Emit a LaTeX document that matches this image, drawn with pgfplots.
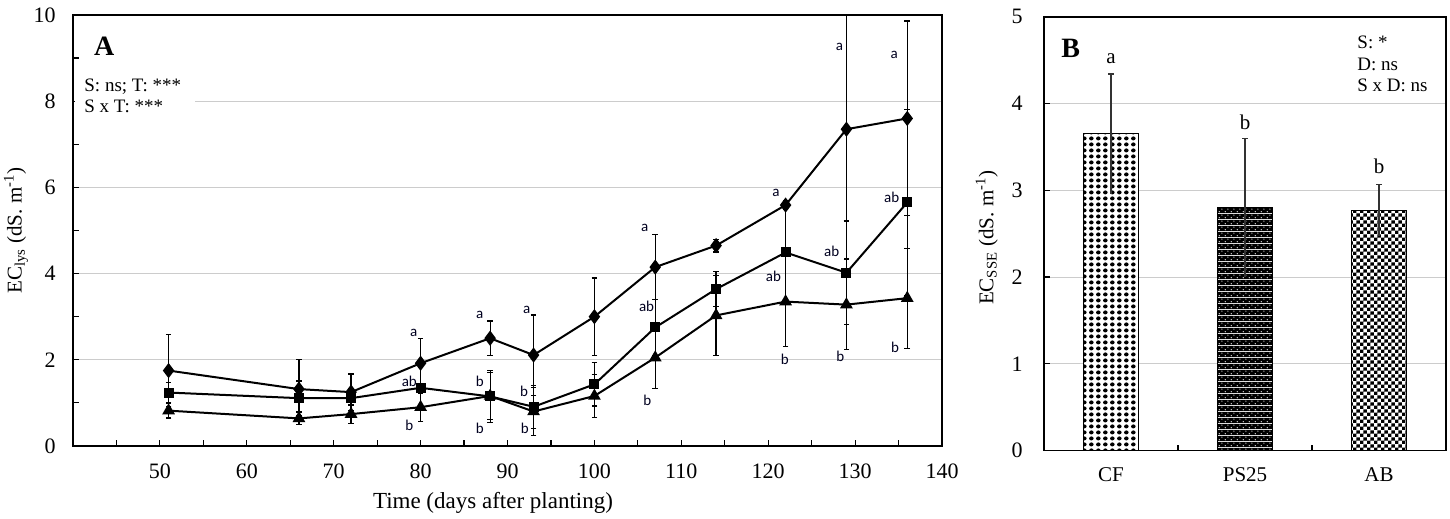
\documentclass[border=0pt]{standalone}
\usepackage{fontspec}
\setmainfont{Liberation Serif}
\newfontfamily\calfont{Carlito}
\usepackage{pgfplots}
\usepackage{pgfplotstable}
\pgfplotsset{compat=1.18}
\usetikzlibrary{patterns}

\pgfdeclarepatterninherentlycolored{cfdots}{\pgfpointorigin}{\pgfqpoint{3.4pt}{3pt}}{\pgfqpoint{3.4pt}{3pt}}{%
  \pgfsetfillcolor{black}\pgfpathcircle{\pgfqpoint{1.7pt}{1.5pt}}{1.15pt}\pgfusepath{fill}}
\pgfdeclarepatterninherentlycolored{psdots}{\pgfpointorigin}{\pgfqpoint{3pt}{3pt}}{\pgfqpoint{3pt}{3pt}}{%
  \pgfsetfillcolor{black}\pgfpathrectangle{\pgfpointorigin}{\pgfqpoint{3pt}{3pt}}\pgfusepath{fill}%
  \pgfsetfillcolor{white}\pgfpathcircle{\pgfqpoint{0.75pt}{0.75pt}}{0.36pt}\pgfpathcircle{\pgfqpoint{2.25pt}{2.25pt}}{0.36pt}\pgfusepath{fill}}
\pgfdeclarepatterninherentlycolored{abcheck}{\pgfpointorigin}{\pgfqpoint{3.4pt}{3.4pt}}{\pgfqpoint{3.4pt}{3.4pt}}{%
  \pgfsetfillcolor{black}\pgfpathrectangle{\pgfpointorigin}{\pgfqpoint{1.7pt}{1.7pt}}\pgfpathrectangle{\pgfqpoint{1.7pt}{1.7pt}}{\pgfqpoint{1.7pt}{1.7pt}}\pgfusepath{fill}}

\pgfplotstableread{
x y e
51 1.75 0.84
66 1.32 0.68
72 1.25 0.42
80 1.92 0.58
88 2.50 0.40
93 2.11 0.93
100 3.00 0.90
107 4.15 0.76
114 4.65 0.15
122 5.59 0.10
129 7.35 3.00
136 7.60 2.26
}\dataD
\pgfplotstableread{
x y e
51 1.24 0.23
66 1.11 0.40
72 1.11 0.10
80 1.35 0.10
88 1.15 0.60
93 0.91 0.50
100 1.43 0.50
107 2.75 0.65
114 3.64 0.40
122 4.49 1.10
129 4.02 1.20
136 5.65 2.16
}\dataS
\pgfplotstableread{
x y e
51 0.82 0.17
66 0.64 0.15
72 0.74 0.21
80 0.90 0.33
88 1.16 0.55
93 0.80 0.55
100 1.16 0.50
107 2.05 0.72
114 3.03 0.93
122 3.35 1.05
129 3.28 1.05
136 3.43 1.16
}\dataT

\tikzset{lab/.style={font=\calfont\fontsize{7.5}{8}\selectfont, text=black!88!blue, inner sep=0pt}}

\begin{document}
\begin{tikzpicture}
\useasboundingbox (0,0) rectangle (725pt,259.5pt);
\pgfplotsset{
  common/.style={
    scale only axis, anchor=south west,
    tick align=inside, xtick pos=bottom, ytick pos=left,
    major tick length=3pt, minor tick length=3pt,
    every tick/.style={black, line width=0.6pt},
    axis line style={line width=0.8pt},
    ymajorgrids, major grid style={gray!40, line width=0.5pt},
    tick label style={font=\fontsize{11}{12}\selectfont},
    /pgf/number format/assume math mode=true,
    clip=true,
  },
  errA/.style={error bars/.cd, y dir=both, y explicit,
    error bar style={line width=0.6pt, draw=black},
    error mark options={rotate=90, mark size=1.4pt, line width=0.6pt, draw=black}},
}
\begin{axis}[common,
  at={(36.5pt,36.5pt)}, width=434.5pt, height=215.5pt,
  xmin=40, xmax=140, ymin=0, ymax=10,
  xtick={50,60,...,140}, minor xtick={45,55,...,135},
  ytick={0,2,...,10}, minor ytick={1,3,...,9},
  yticklabel style={anchor=east, inner sep=0pt, xshift=-8.5pt},
  xticklabel style={anchor=center, inner sep=0pt, yshift=-12.8pt},
  xlabel={Time (days after planting)},
  xlabel style={font=\fontsize{11.5}{13}\selectfont, at={(axis description cs:0.4833,-0.1323)}, anchor=center},
  ylabel={EC\textsubscript{lys} (dS. m\textsuperscript{-1})},
  ylabel style={font=\fontsize{10.5}{12}\selectfont, at={(axis description cs:-0.0655,0.5)}, anchor=center},
]
\addplot[black, line width=1pt, mark=diamond*, mark size=3pt, mark options={solid, fill=black}, errA] table[x=x, y=y, y error=e] {\dataD};
\addplot[black, line width=1pt, mark=square*, mark size=2pt, mark options={solid, fill=black}, errA] table[x=x, y=y, y error=e] {\dataS};
\addplot[black, line width=1pt, mark=triangle*, mark size=2.7pt, mark options={solid, fill=black}, errA] table[x=x, y=y, y error=e] {\dataT};

\fill[white] (axis cs:40.2,7.94) rectangle (axis cs:54,8.06);
\node[font=\bfseries\fontsize{14}{16}\selectfont, inner sep=0pt] at (axis cs:43.6,9.28) {A};
\node[font=\fontsize{9.5}{10}\selectfont, anchor=west, inner sep=0pt] at (axis cs:41.27,8.33) {S: ns; T: ***};
\node[font=\fontsize{9.5}{10}\selectfont, anchor=west, inner sep=0pt] at (axis cs:41.27,7.87) {S x T: ***};

\node[lab] at (axis cs:79.2,2.62) {a};
\node[lab] at (axis cs:78.7,1.51) {ab};
\node[lab] at (axis cs:78.7,0.49) {b};
\node[lab] at (axis cs:86.8,3.04) {a};
\node[lab] at (axis cs:86.8,1.51) {b};
\node[lab] at (axis cs:86.8,0.42) {b};
\node[lab] at (axis cs:92.2,3.16) {a};
\node[lab] at (axis cs:91.9,1.26) {b};
\node[lab] at (axis cs:92.0,0.42) {b};
\node[lab] at (axis cs:105.8,5.06) {a};
\node[lab] at (axis cs:106.0,3.25) {ab};
\node[lab] at (axis cs:106.1,1.07) {b};
\node[lab] at (axis cs:120.9,5.88) {a};
\node[lab] at (axis cs:120.6,3.93) {ab};
\node[lab] at (axis cs:121.9,2.02) {b};
\node[lab] at (axis cs:128.2,9.26) {a};
\node[lab] at (axis cs:127.3,4.51) {ab};
\node[lab] at (axis cs:128.3,2.07) {b};
\node[lab] at (axis cs:134.5,9.07) {a};
\node[lab] at (axis cs:134.2,5.76) {ab};
\node[lab] at (axis cs:134.6,2.30) {b};
\end{axis}

\begin{axis}[common,
  at={(522pt,34.15pt)}, width=201pt, height=217pt,
  xmin=-0.5, xmax=2.5, ymin=0, ymax=5,
  xtick={0,1,2}, xticklabels={CF,PS25,AB}, major x tick style={draw=none},
  minor xtick={0.5,1.5},
  ytick={0,1,...,5},
  yticklabel style={anchor=east, inner sep=0pt, xshift=-10.5pt},
  xticklabel style={anchor=center, inner sep=0pt, yshift=-12.15pt, font=\fontsize{10.5}{12}\selectfont},
  ylabel={EC\textsubscript{SSE} (dS. m\textsuperscript{-1})},
  ylabel style={font=\fontsize{10.5}{12}\selectfont, at={(axis description cs:-0.1426,0.491)}, anchor=center},
]
\addplot[ybar, bar width=27.2pt, draw=black, line width=0.6pt, preaction={fill=white}, pattern=cfdots] coordinates {(0,3.65)};
\addplot[ybar, bar width=27.2pt, draw=black, line width=0.6pt, preaction={fill=white}, pattern=psdots] coordinates {(1,2.80)};
\addplot[ybar, bar width=27.2pt, draw=black, line width=0.6pt, preaction={fill=white}, pattern=abcheck] coordinates {(2,2.77)};
\addplot[draw=none, mark=none, error bars/.cd, y dir=plus, y explicit,
  error bar style={line width=0.6pt, draw=black!80},
  error mark options={rotate=90, mark size=1.4pt, line width=0.6pt, draw=black!80}]
  coordinates {(0,3.65) +- (0,0.69) (1,2.80) +- (0,0.80) (2,2.77) +- (0,0.30)};
\addplot[draw=none, mark=none, error bars/.cd, y dir=minus, y explicit, error mark=none,
  error bar style={line width=0.6pt, draw=black!80}]
  coordinates {(0,3.65) +- (0,0.69) (1,2.80) +- (0,0.80) (2,2.77) +- (0,0.30)};

\node[font=\bfseries\fontsize{14}{16}\selectfont, inner sep=0pt] at (axis cs:-0.30,4.64) {B};
\node[font=\fontsize{10.5}{12}\selectfont, inner sep=0pt] at (axis cs:0,4.52) {a};
\node[font=\fontsize{10.5}{12}\selectfont, inner sep=0pt] at (axis cs:1,3.78) {b};
\node[font=\fontsize{10.5}{12}\selectfont, inner sep=0pt] at (axis cs:2,3.28) {b};
\node[font=\fontsize{9.5}{10}\selectfont, anchor=west, inner sep=0pt] at (axis cs:1.836,4.70) {S: *};
\node[font=\fontsize{9.5}{10}\selectfont, anchor=west, inner sep=0pt] at (axis cs:1.836,4.45) {D: ns};
\node[font=\fontsize{9.5}{10}\selectfont, anchor=west, inner sep=0pt] at (axis cs:1.836,4.21) {S x D: ns};
\end{axis}
\end{tikzpicture}
\end{document}
